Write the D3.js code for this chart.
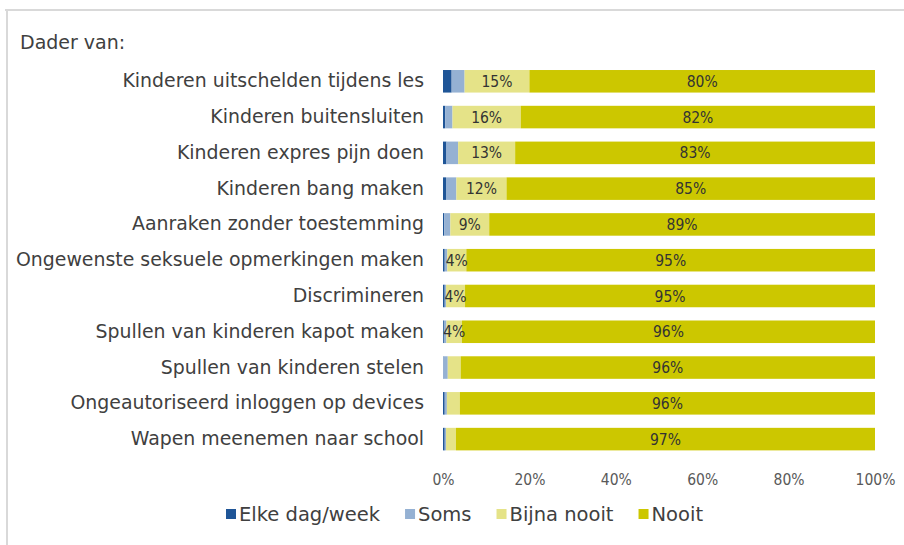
<!DOCTYPE html>
<html>
<head>
<meta charset="utf-8">
<script src="https://cdn.jsdelivr.net/npm/d3@7"></script>
<style>
  html, body { margin: 0; padding: 0; background: #fff; }
  svg { display: block; }
  .cond { font-family: "DejaVu Sans Condensed", "DejaVu Sans", sans-serif; font-stretch: condensed; }
  .reg { font-family: "DejaVu Sans", sans-serif; }
</style>
</head>
<body>
<svg id="chart" width="904" height="545"></svg>
<script>
// Behaviours asked about, top to bottom
const categories = [
  "Kinderen uitschelden tijdens les",
  "Kinderen buitensluiten",
  "Kinderen expres pijn doen",
  "Kinderen bang maken",
  "Aanraken zonder toestemming",
  "Ongewenste seksuele opmerkingen maken",
  "Discrimineren",
  "Spullen van kinderen kapot maken",
  "Spullen van kinderen stelen",
  "Ongeautoriseerd inloggen op devices",
  "Wapen meenemen naar school"
];

// Share of respondents per answer (percent)
const elkeDagWeek = [2.0, 0.5, 0.8, 0.7, 0.3, 0.4, 0.4, 0.2, 0.1, 0.4, 0.4];
const soms        = [3.0, 1.7, 2.7, 2.4, 1.4, 0.6, 0.3, 0.6, 1.0, 0.5, 0.3];
const bijnaNooit  = [15.0, 15.8, 13.2, 11.6, 9.0, 4.4, 4.4, 3.6, 3.0, 3.0, 2.3];
const nooit       = [80.0, 82.0, 83.3, 85.3, 89.3, 94.6, 94.9, 95.6, 95.9, 96.1, 97.0];

const seriesNames = ["Elke dag/week", "Soms", "Bijna nooit", "Nooit"];
const seriesValues = [elkeDagWeek, soms, bijnaNooit, nooit];
const seriesColors = ["#1F5597", "#95B1D3", "#E5E388", "#CCC700"];
// series that carry value labels, and how many rows (from the top) get one
const labelledSeries = { "Bijna nooit": 8, "Nooit": 11 };

const xTicks = [0, 20, 40, 60, 80, 100];

const svg = d3.select("#chart");
const W = 904, H = 545;

// outer frame (top and left edges visible)
svg.append("line").attr("x1", 5).attr("x2", W).attr("y1", 10).attr("y2", 10)
  .attr("stroke", "#d9d9d9").attr("stroke-width", 2);
svg.append("line").attr("x1", 7).attr("x2", 7).attr("y1", 9).attr("y2", H)
  .attr("stroke", "#d9d9d9").attr("stroke-width", 2);

svg.append("text").attr("class", "reg")
  .attr("x", 20).attr("y", 42).attr("dy", "0.35em")
  .attr("font-size", 19).attr("fill", "#404040")
  .text("Dader van:");

const x = d3.scaleLinear().domain([0, 100]).range([443, 875]);
const y = d3.scaleBand().domain(categories).range([63.4, 457])
  .paddingInner(0.37).paddingOuter(0.185);

// build stacked rows
const rows = categories.map((c, i) => {
  const r = { cat: c };
  seriesNames.forEach((s, k) => r[s] = seriesValues[k][i]);
  return r;
});
const stack = d3.stack().keys(seriesNames)(rows);

const layers = svg.append("g").selectAll("g").data(stack).join("g")
  .attr("fill", (d, k) => seriesColors[k]);

layers.selectAll("rect").data(d => d).join("rect")
  .attr("x", d => x(d[0]))
  .attr("width", d => x(d[1]) - x(d[0]))
  .attr("y", d => y(d.data.cat))
  .attr("height", y.bandwidth());

// value labels
const fmt = v => Math.round(v) + "%";
stack.forEach(layer => {
  const limit = labelledSeries[layer.key];
  if (limit === undefined) return;
  svg.append("g").selectAll("text")
    .data(layer.filter((d, i) => i < limit))
    .join("text")
    .attr("class", "cond")
    .attr("x", d => (x(d[0]) + x(d[1])) / 2)
    .attr("y", d => y(d.data.cat) + y.bandwidth() / 2)
    .attr("dy", "0.36em")
    .attr("text-anchor", "middle")
    .attr("font-size", 15.5)
    .attr("fill", "#333333")
    .text(d => fmt(d[1] - d[0]));
});

// category labels
const yAxis = d3.axisLeft(y).tickSize(0).tickPadding(19);
const gy = svg.append("g").attr("transform", `translate(${x(0)},0)`).call(yAxis);
gy.select(".domain").remove();
gy.selectAll("text").attr("class", "reg").attr("font-size", 18.9)
  .attr("fill", "#404040").attr("font-family", null);

// x axis tick labels
const xAxis = d3.axisBottom(x).tickValues(xTicks).tickFormat(d => d + "%").tickSize(0).tickPadding(0);
const gx = svg.append("g").attr("transform", "translate(0,474)").call(xAxis);
gx.select(".domain").remove();
gx.selectAll("text").attr("class", "cond").attr("font-size", 15.5)
  .attr("fill", "#595959").attr("font-family", null);

// legend
const legend = svg.append("g");
let lx = 226;
seriesNames.forEach((name, k) => {
  legend.append("rect").attr("x", lx).attr("y", 509).attr("width", 10).attr("height", 10)
    .attr("fill", seriesColors[k]);
  const t = legend.append("text").attr("class", "reg")
    .attr("x", lx + 13).attr("y", 514.5).attr("dy", "0.35em")
    .attr("font-size", 19.5).attr("fill", "#404040").text(name);
  lx += 13 + t.node().getComputedTextLength() + 25;
});
</script>
</body>
</html>
